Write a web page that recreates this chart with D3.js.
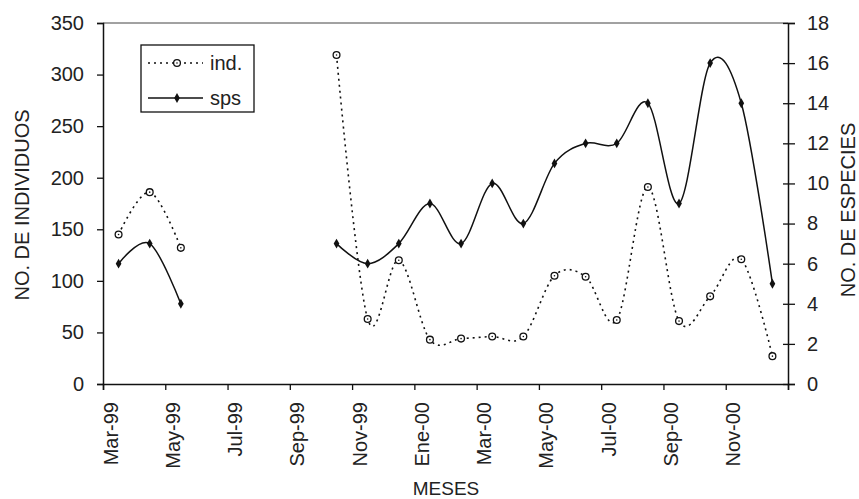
<!DOCTYPE html>
<html>
<head>
<meta charset="utf-8">
<script src="https://cdnjs.cloudflare.com/ajax/libs/d3/7.8.5/d3.min.js"></script>
<style>
  body { margin: 0; background: #fff; }
  text { font-family: Arial, "Liberation Sans", sans-serif; fill: #222; }
</style>
</head>
<body>
<div id="root"></div>
<script>
// months Mar-99 .. Dic-00
var months = ["Mar-99","Abr-99","May-99","Jun-99","Jul-99","Ago-99","Sep-99","Oct-99","Nov-99","Dic-99",
  "Ene-00","Feb-00","Mar-00","Abr-00","May-00","Jun-00","Jul-00","Ago-00","Sep-00","Oct-00","Nov-00","Dic-00"];
var ind = [145,186,132,null,null,null,null,319,63,120,43,44,46,46,105,104,62,191,61,85,121,27];
var sps = [6,7,4,null,null,null,null,7,6,7,9,7,10,8,11,12,12,14,9,16,14,5];
var leftTicks = [0,50,100,150,200,250,300,350];
var rightTicks = [0,2,4,6,8,10,12,14,16,18];

var w = 859, h = 499;
var pLeft = 103, pRight = 788, pTop = 23, pBottom = 384;

var svg = d3.select("#root").append("svg").attr("width", w).attr("height", h);
svg.append("rect").attr("width", w).attr("height", h).attr("fill", "#fff");

var x = d3.scaleLinear().domain([0, months.length]).range([pLeft, pRight]);
var yL = d3.scaleLinear().domain([0, 350]).range([pBottom, pTop]);
var yR = d3.scaleLinear().domain([0, 18]).range([pBottom, pTop]);

// top border of plot area
svg.append("line").attr("x1", pLeft).attr("x2", pRight).attr("y1", pTop).attr("y2", pTop)
  .attr("stroke", "#444").attr("stroke-width", 1);

// left axis
var gL = svg.append("g").attr("transform", "translate(" + pLeft + ",0)")
  .call(d3.axisLeft(yL).tickValues(leftTicks).tickSize(6).tickPadding(13));
// right axis (ticks cross)
var gR = svg.append("g").attr("transform", "translate(" + pRight + ",0)")
  .call(d3.axisRight(yR).tickValues(rightTicks).tickSize(7).tickPadding(12));
gR.selectAll(".tick line").attr("x1", -5);

// x axis: ticks every two months, labels rotated
var evenIdx = d3.range(0, months.length + 1, 2);
var gX = svg.append("g").attr("transform", "translate(0," + pBottom + ")")
  .call(d3.axisBottom(x).tickValues(evenIdx).tickSize(6).tickFormat(""));
gX.selectAll(".tick").filter(function(d) { return d < months.length; }).append("text")
  .attr("transform", "translate(7,18) rotate(-90)")
  .attr("text-anchor", "end").attr("dy", "0.35em")
  .text(function(d) { return months[d]; });

[gL, gR, gX].forEach(function(g) {
  g.select(".domain").attr("stroke", "#111").attr("stroke-width", 1.5);
  g.selectAll(".tick line").attr("stroke", "#111").attr("stroke-width", 1.3);
  g.selectAll("text").attr("font-size", 20).attr("fill", "#2a2a2a")
    .attr("font-family", "Arial, 'Liberation Sans', sans-serif");
});

// axis titles
svg.append("text").attr("transform", "translate(29,205) rotate(-90)")
  .attr("text-anchor", "middle").attr("font-size", 20).text("NO. DE INDIVIDUOS");
svg.append("text").attr("transform", "translate(855,210) rotate(-90)")
  .attr("text-anchor", "middle").attr("font-size", 20).text("NO. DE ESPECIES");
svg.append("text").attr("x", 446).attr("y", 495)
  .attr("text-anchor", "middle").attr("font-size", 19).text("MESES");

// smoothed lines with gaps
var cx = function(d, i) { return x(i + 0.5); };
var lineInd = d3.line().defined(function(d) { return d != null; })
  .x(cx).y(function(d) { return yL(d); }).curve(d3.curveCatmullRom.alpha(0));
var lineSps = d3.line().defined(function(d) { return d != null; })
  .x(cx).y(function(d) { return yR(d); }).curve(d3.curveCatmullRom.alpha(0));

svg.append("path").datum(ind).attr("d", lineInd).attr("fill", "none")
  .attr("stroke", "#111").attr("stroke-width", 1.6).attr("stroke-dasharray", "2,4");
svg.append("path").datum(sps).attr("d", lineSps).attr("fill", "none")
  .attr("stroke", "#111").attr("stroke-width", 1.5);

// markers
var diamond = d3.symbol().type(d3.symbolDiamond).size(28);
function indMarker(g, px, py) {
  g.append("circle").attr("cx", px).attr("cy", py).attr("r", 3.4)
    .attr("fill", "#fff").attr("stroke", "#111").attr("stroke-width", 1.3);
  g.append("circle").attr("cx", px).attr("cy", py).attr("r", 0.8).attr("fill", "#111");
}
var mInd = svg.append("g");
ind.forEach(function(d, i) { if (d != null) indMarker(mInd, cx(d, i), yL(d)); });
svg.append("g").selectAll("path").data(sps.map(function(d, i) { return {v: d, i: i}; })
  .filter(function(d) { return d.v != null; }))
  .enter().append("path").attr("d", diamond)
  .attr("transform", function(d) { return "translate(" + cx(d.v, d.i) + "," + yR(d.v) + ")"; })
  .attr("fill", "#111");

// legend
var lg = svg.append("g");
lg.append("rect").attr("x", 141).attr("y", 45).attr("width", 113).attr("height", 67)
  .attr("fill", "#fff").attr("stroke", "#111").attr("stroke-width", 1.3);
lg.append("line").attr("x1", 148).attr("x2", 203).attr("y1", 63).attr("y2", 63)
  .attr("stroke", "#111").attr("stroke-width", 1.6).attr("stroke-dasharray", "2,4");
indMarker(lg, 177, 63);
lg.append("text").attr("x", 210).attr("y", 70).attr("font-size", 20).text("ind.");
lg.append("line").attr("x1", 148).attr("x2", 203).attr("y1", 98).attr("y2", 98)
  .attr("stroke", "#111").attr("stroke-width", 1.5);
lg.append("path").attr("d", diamond).attr("transform", "translate(177,98)").attr("fill", "#111");
lg.append("text").attr("x", 210).attr("y", 105).attr("font-size", 20).text("sps");
</script>
</body>
</html>
